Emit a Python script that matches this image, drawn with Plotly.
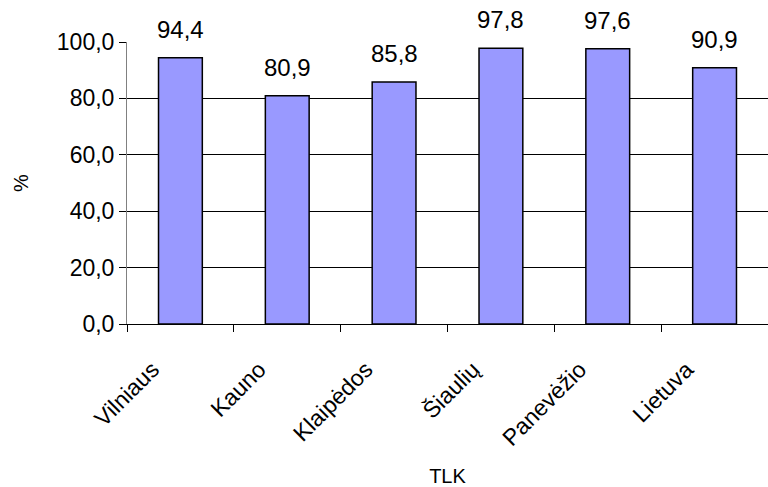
import plotly.graph_objects as go

categories = ["Vilniaus", "Kauno", "Klaipėdos", "Šiaulių", "Panevėžio", "Lietuva"]
values = [94.4, 80.9, 85.8, 97.8, 97.6, 90.9]
y_ticks = [0, 20, 40, 60, 80, 100]

FONT = "Liberation Sans, Arial, sans-serif"

fig = go.Figure()
fig.add_trace(go.Bar(
    x=categories, y=values,
    marker=dict(color="#9999FF", line=dict(color="#000000", width=1.5)),
    width=0.41,
    hoverinfo="skip",
))

for c, v in zip(categories, values):
    fig.add_annotation(
        x=c, y=v, text=f"{v:.1f}".replace(".", ","),
        showarrow=False, yanchor="bottom", yshift=13,
        font=dict(family=FONT, size=24, color="#000000"),
    )

fig.update_layout(
    width=768, height=487,
    margin=dict(l=127, r=0, t=42, b=163),
    paper_bgcolor="white", plot_bgcolor="white",
    separators=", ",
    showlegend=False,
    font=dict(family=FONT, size=22, color="#000000"),
    bargap=0.59,
)
fig.update_xaxes(
    tickangle=-45, tickson="boundaries", ticks="outside", ticklen=7,
    tickcolor="#000000", showline=True, linecolor="#000000", linewidth=1,
    showgrid=False, tickfont=dict(family=FONT, size=23, color="#000000"),
    ticklabelstandoff=22, ticklabelshift=-28,
    title=dict(text="TLK", font=dict(family=FONT, size=20), standoff=20),
)
fig.update_yaxes(
    range=[0, 100], tickvals=y_ticks, tickformat=".1f",
    ticks="outside", ticklen=7, tickcolor="#000000",
    showline=True, linecolor="#808080", linewidth=1,
    showgrid=True, gridcolor="#000000", gridwidth=1,
    zeroline=False,
    tickfont=dict(family=FONT, size=23, color="#000000"),
    title=dict(text="%", font=dict(family=FONT, size=20), standoff=22),
)

fig.write_html("out.html")
